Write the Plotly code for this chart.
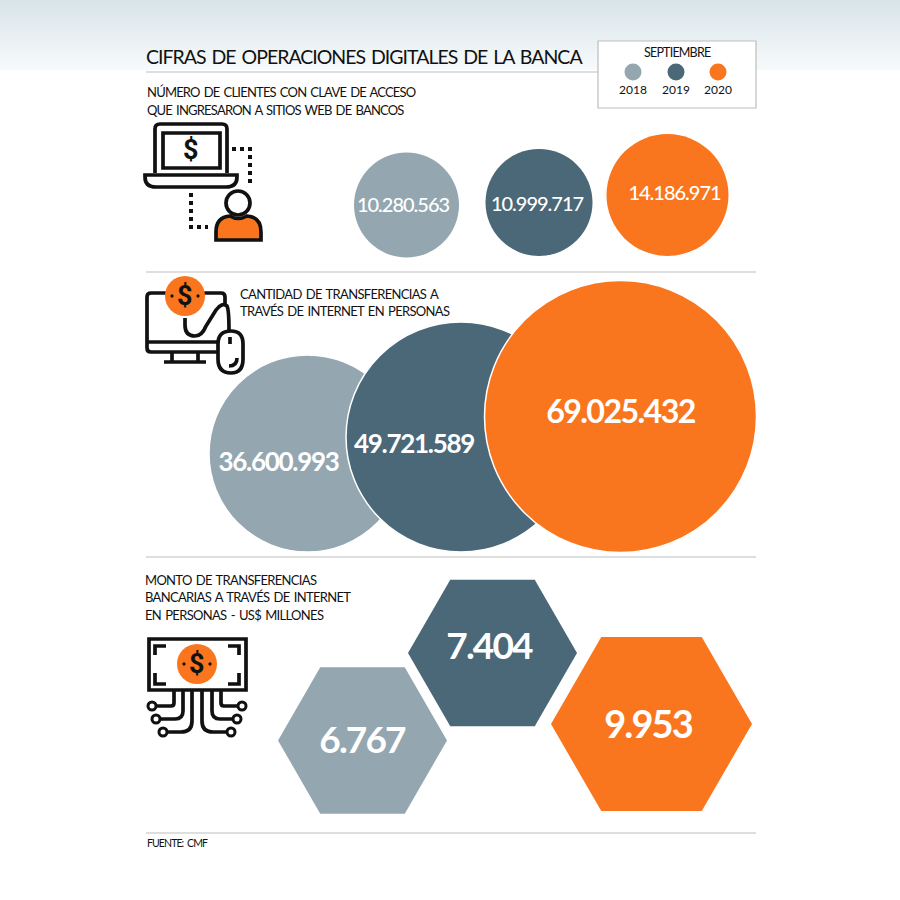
import plotly.graph_objects as go

# data
years = ["2018", "2019", "2020"]
clients = [10280563, 10999717, 14186971]
transfers = [36600993, 49721589, 69025432]
amounts = [6767, 7404, 9953]

main_title = "CIFRAS DE OPERACIONES DIGITALES DE LA BANCA"
legend_title = "SEPTIEMBRE"
clients_title = ["NÚMERO DE CLIENTES CON CLAVE DE ACCESO", "QUE INGRESARON A SITIOS WEB DE BANCOS"]
transfers_title = ["CANTIDAD DE TRANSFERENCIAS A", "TRAVÉS DE INTERNET EN PERSONAS"]
amounts_title = ["MONTO DE TRANSFERENCIAS", "BANCARIAS A TRAVÉS DE INTERNET", "EN PERSONAS - US$ MILLONES"]
source = "FUENTE: CMF"

# colours and page layout, in pixels of the 900x900 page
colors = ["#94a7b0", "#4a6877", "#fa761e"]
ink = "#111111"
rule = "#bdbdbd"
font = "Lato"

legend_x = [633, 676, 718]
clients_pos = dict(x=[406.5, 539, 667.5], y=[205, 202.5, 195], size=[105, 107, 122])
transfers_pos = dict(x=[307.5, 461, 620.5], y=[453.5, 437, 416.5], size=[197, 230, 272])
amounts_pos = dict(x=[362.5, 492.5, 651.5], y=[740.5, 653, 724], size=[169, 169, 201])
# the labels do not always sit in the middle of their mark
clients_label_x = [403, 537, 674.5]
clients_label_y = [207, 206, 195]
transfers_label_x = [278.5, 414, 620.5]
transfers_label_y = [464, 446, 415]
amounts_label_x = [362, 489, 648]
amounts_label_y = [744, 650, 728]


def fmt(v):
    return f"{v:,}".replace(",", ".")


def tight(s, spacing, words="0"):
    # the original typeface is narrower than anything installed
    return f'<span style="letter-spacing:{spacing};word-spacing:{words}">{s}</span>'


shapes = []
annotations = []


def text(x, y, s, size, color=ink, anchor="left", family=font, spacing=None, words="0"):
    if anchor == "left":
        x -= 2  # annotation padding
    if spacing:
        s = tight(s, spacing, words)
    annotations.append(dict(x=x, y=y, text=s, showarrow=False, xanchor=anchor, yanchor="middle",
                            xref="x", yref="y", font=dict(family=family, size=size, color=color)))


def path(d, width=3.7, fill=None, color=ink, dash=None):
    shapes.append(dict(type="path", path=d, xref="x", yref="y", layer="above",
                       line=dict(color=color, width=width, dash=dash),
                       fillcolor=fill if fill else "rgba(0,0,0,0)"))


def circle(cx, cy, r, width=3.7, fill=None, color=ink):
    shapes.append(dict(type="circle", x0=cx - r, x1=cx + r, y0=cy - r, y1=cy + r, xref="x", yref="y",
                       layer="above", line=dict(color=color, width=width),
                       fillcolor=fill if fill else "rgba(0,0,0,0)"))


def line(x0, y0, x1, y1, color=rule, width=1.2):
    shapes.append(dict(type="line", x0=x0, x1=x1, y0=y0, y1=y1, xref="x", yref="y",
                       layer="below", line=dict(color=color, width=width)))


def dollar_badge(cx, cy, r=20):
    circle(cx, cy, r, width=0, fill=colors[2], color=colors[2])
    text(cx, cy, "<b>$</b>", 27, anchor="center", family="Roboto")
    circle(cx - 13, cy, 1.2, width=1, fill=ink)
    circle(cx + 13, cy, 1.2, width=1, fill=ink)


# background band at the top
for i in range(70):
    t = i / 69
    c = [round(a + (b - a) * t) for a, b in zip((216, 228, 233), (247, 250, 251))]
    shapes.append(dict(type="rect", x0=0, x1=900, y0=i, y1=i + 1, layer="below",
                       line=dict(width=0), fillcolor=f"rgb({c[0]},{c[1]},{c[2]})"))

line(146, 72, 598, 72)
line(146, 272, 756, 272)
line(146, 557, 756, 557)
line(146, 833, 756, 833)

# legend box
shapes.append(dict(type="rect", x0=598, x1=756, y0=41, y1=108, layer="below",
                   line=dict(color=rule, width=1.2), fillcolor="white"))

# laptop icon
path("M155 173 V129 Q155 124 160 124 H222 Q227 124 227 129 V173")
path("M163 133 H220 V168 H163 Z")
path("M145 175 H237 V177 Q237 187 226 187 H156 Q145 187 145 177 Z")
text(191, 150, "<b>$</b>", 27, anchor="center", family="Roboto")
path("M232 149 H250 V184", dash="4px,4px", width=4)
path("M191 193 V227 H208", dash="4px,4px", width=4)
circle(238, 203, 12)
path("M216 240 V232 Q216 217 230 216 Q238 221 247 216 Q261 217 261 232 V240 Z", fill=colors[2])

# monitor and mouse icon
path("M166 293 H151 Q147 293 147 297 V348 Q147 352 151 352 H217")
path("M204 293 H221 Q225 293 225 297 V304")
path("M148 342 H217")
path("M172 353 V361 M198 353 V361 M164 362 H206")
path("M185 318 V325 Q185 336 195 336 Q202 336 206 326 L216 310 Q222 302 227 306 Q229 310 229 331")
path("M231 331 Q218 331 218 344 V359 Q218 373 231 373 Q243 373 243 359 V344 Q243 331 231 331 Z", fill="white")
path("M230 337 V344")
path("M237 358 Q237 366 229 366")
dollar_badge(185, 296)

# banknote and circuit icon
path("M149 639 H246 V690 H149 Z")
path("M166 646 H155 V655 M155 673 V684 H166 M228 646 H239 V655 M239 673 V684 H228")
dollar_badge(197, 664)
path("M174 691 V703 Q174 706 171 706 H155")
path("M183 691 V711 Q183 719 175 719 H159")
path("M192 691 V721 Q192 732 181 732 H167")
path("M202 691 V721 Q202 732 213 732 H226")
path("M212 691 V711 Q212 719 220 719 H233")
path("M221 691 V703 Q221 706 224 706 H238")
for cx, cy in [(152, 706), (156, 719), (163, 732), (231, 732), (237, 719), (242, 706)]:
    circle(cx, cy, 4, width=3, fill="white")

# text blocks
text(146, 56, main_title, 19.5, spacing="-1px", words="2px")
text(677, 52, legend_title, 12.5, anchor="center", spacing="-0.8px")
for yy, s in zip([92, 110], clients_title):
    text(147, yy, s, 13, spacing="-0.8px", words="1.5px")
for yy, s in zip([294, 311], transfers_title):
    text(240, yy, s, 13, spacing="-0.68px", words="1.5px")
for yy, s in zip([580, 597, 615], amounts_title):
    text(145, yy, s, 13, spacing="-0.68px", words="1.5px")
text(147, 843, source, 10.5, spacing="-0.9px", words="2px")
for lx, yr in zip(legend_x, years):
    text(lx, 89, yr, 12, anchor="center")

fig = go.Figure()

fig.add_trace(go.Scatter(x=legend_x, y=[72] * 3, mode="markers", marker=dict(color=colors, size=17),
                         cliponaxis=False, hoverinfo="skip"))


def add_marks(pos, symbol, outline=0):
    # one trace per year so the later years sit on top
    for i in range(3):
        fig.add_trace(go.Scatter(x=[pos["x"][i]], y=[pos["y"][i]], mode="markers",
                                 marker=dict(color=colors[i], size=pos["size"][i], symbol=symbol,
                                             line=dict(color="white", width=outline)),
                                 cliponaxis=False, hoverinfo="skip"))


def add_labels(values, xs, ys, sizes, weight=500):
    for x, y, v, s in zip(xs, ys, values, sizes):
        fig.add_trace(go.Scatter(x=[x], y=[y], mode="text", text=[tight(fmt(v), "-0.05em")],
                                 textposition="middle center",
                                 textfont=dict(family=font, size=s, color="white", weight=weight),
                                 cliponaxis=False, hoverinfo="skip"))


add_marks(clients_pos, "circle")
add_marks(transfers_pos, "circle", outline=1.5)
add_marks(amounts_pos, "hexagon2")
add_labels(clients, clients_label_x, clients_label_y, [20] * 3)
add_labels(transfers, transfers_label_x, transfers_label_y, [26, 26, 32.2], weight=700)
add_labels(amounts, amounts_label_x, amounts_label_y, [37, 37, 38], weight=700)

fig.update_layout(width=900, height=900, margin=dict(l=0, r=0, t=0, b=0), autosize=False,
                  paper_bgcolor="white", plot_bgcolor="white", showlegend=False,
                  shapes=shapes, annotations=annotations,
                  xaxis=dict(range=[0, 900], visible=False, fixedrange=True),
                  yaxis=dict(range=[900, 0], visible=False, fixedrange=True))

fig.write_html("out.html", config=dict(displayModeBar=False),
               post_script="document.body.style.margin='0';")
